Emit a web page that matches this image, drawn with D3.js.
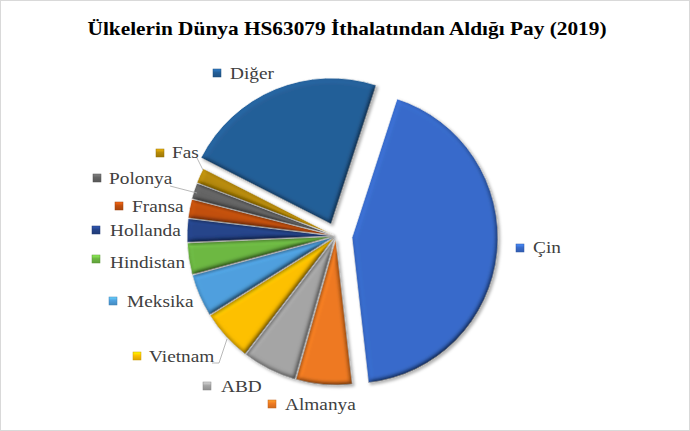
<!DOCTYPE html>
<html><head><meta charset="utf-8">
<script src="https://cdn.jsdelivr.net/npm/d3@7"></script>
<style>html,body{margin:0;padding:0;background:#fff;}svg{display:block;}</style>
</head><body>
<div id="chart"></div>
<script>
const titleText = "Ülkelerin Dünya HS63079 İthalatından Aldığı Pay (2019)";
const categories = ["Çin","Almanya","ABD","Vietnam","Meksika","Hindistan","Hollanda","Fransa","Polonya","Fas","Diğer"];
const shares = [43.2, 6.2, 6.0, 5.7, 4.7, 3.5, 2.6, 2.1, 1.8, 1.7, 22.5];
const colors = ["#386BCB","#EF7A22","#A5A5A5","#FDC000","#4FA0DE","#6DB843","#25448A","#C2500F","#646464","#B68A08","#245F98"];
const explode = [16, 3, 3, 3, 3, 3, 3, 3, 3, 3, 13];
// label layout: marker centre x,y and text x, baseline
const labelPos = [
  [520,248,533,253],[272,404,285,410],[207,386,221,392],[137,356,149,362],
  [113,301,127,307],[96,259,110,268],[96,230,110,236],[119,206,132,212],
  [97,178,109,184],[160,153,172,158],[217,73,230,79]
];
const leaders = [
  [[197,158],[203,170]],
  [[170,186],[197,193]],
  [[212,363],[219,363],[227,339]]
];

const W = 690, H = 431;
const cx = 336, cy = 236, R = 146;
const startDeg = 18;
const stretch = 1.17;

const svg = d3.select("#chart").append("svg").attr("width", W).attr("height", H);
svg.append("rect").attr("x",0.5).attr("y",0.5).attr("width",W-1).attr("height",H-1)
  .attr("fill","#fff").attr("stroke","#d9d9d9");

const defs = svg.append("defs");
const f = defs.append("filter").attr("id","bevel").attr("x","-10%").attr("y","-10%").attr("width","125%").attr("height","125%");
f.append("feGaussianBlur").attr("in","SourceAlpha").attr("stdDeviation",2.5).attr("result","b");
const dl = f.append("feDiffuseLighting").attr("in","b").attr("surfaceScale",4).attr("diffuseConstant",1).attr("lighting-color","#fff").attr("result","d");
dl.append("feDistantLight").attr("azimuth",235).attr("elevation",60);
f.append("feComposite").attr("in","SourceGraphic").attr("in2","d").attr("operator","arithmetic")
  .attr("k1",1.15).attr("k2",0).attr("k3",0).attr("k4",0).attr("result","lit0");
f.append("feComposite").attr("in","lit0").attr("in2","SourceAlpha").attr("operator","in").attr("result","lit");
f.append("feOffset").attr("in","SourceAlpha").attr("dx",1.5).attr("dy",2).attr("result","off");
f.append("feGaussianBlur").attr("in","off").attr("stdDeviation",1.8).attr("result","offb");
f.append("feFlood").attr("flood-color","#000").attr("flood-opacity",0.3).attr("result","fl");
f.append("feComposite").attr("in","fl").attr("in2","offb").attr("operator","in").attr("result","shadow");
const mg = f.append("feMerge");
mg.append("feMergeNode").attr("in","shadow");
mg.append("feMergeNode").attr("in","lit");

const pie = d3.pie().sort(null).value(d => d)
  .startAngle(startDeg*Math.PI/180).endAngle(startDeg*Math.PI/180 + 2*Math.PI);
const arcs = pie(shares);
const arc = d3.arc().innerRadius(0).outerRadius(R);

const g = svg.append("g").attr("transform", `translate(${cx},${cy})`);
g.selectAll("path.slice").data(arcs).join("path")
  .attr("class","slice")
  .attr("d", arc)
  .attr("fill", (d,i) => colors[i])
  .attr("stroke", "#fff").attr("stroke-width", 0.8)
  .attr("filter","url(#bevel)")
  .attr("transform", (d,i) => {
    const a = (d.startAngle + d.endAngle)/2;
    return `translate(${explode[i]*Math.sin(a)},${-explode[i]*Math.cos(a)})`;
  });

svg.selectAll("path.leader").data(leaders).join("path")
  .attr("class","leader")
  .attr("d", d => d3.line()(d))
  .attr("fill","none").attr("stroke","#a6a6a6").attr("stroke-width",0.8);

categories.forEach((c,i) => {
  const lg = defs.append("linearGradient").attr("id","mk"+i).attr("x1",0).attr("y1",0).attr("x2",0).attr("y2",1);
  lg.append("stop").attr("offset","0%").attr("stop-color", d3.color(colors[i]).brighter(0.8));
  lg.append("stop").attr("offset","45%").attr("stop-color", colors[i]);
  lg.append("stop").attr("offset","100%").attr("stop-color", d3.color(colors[i]).darker(0.4));
});

const lab = svg.selectAll("g.lab").data(categories).join("g").attr("class","lab");
lab.append("rect")
  .attr("x",(d,i)=>labelPos[i][0]-4).attr("y",(d,i)=>labelPos[i][1]-4)
  .attr("width",8).attr("height",8)
  .attr("fill",(d,i)=>`url(#mk${i})`)
  .attr("stroke",(d,i)=>d3.color(colors[i]).darker(0.6)).attr("stroke-width",0.5);
lab.append("text")
  .attr("x",(d,i)=>labelPos[i][2]).attr("y",(d,i)=>labelPos[i][3])
  .attr("font-family","'Liberation Serif','Times New Roman',serif")
  .attr("font-size",16.5).attr("fill","#404040")
  .text(d=>d)
  .each(function(){
    const L = this.getComputedTextLength();
    d3.select(this).attr("textLength", L*stretch).attr("lengthAdjust","spacingAndGlyphs");
  });

svg.append("text").attr("x",347).attr("y",35).attr("text-anchor","middle")
  .attr("font-family","'Liberation Serif','Times New Roman',serif")
  .attr("font-weight","bold").attr("font-size",19).attr("fill","#000")
  .attr("textLength",519).attr("lengthAdjust","spacingAndGlyphs")
  .text(titleText);
</script>
</body></html>
